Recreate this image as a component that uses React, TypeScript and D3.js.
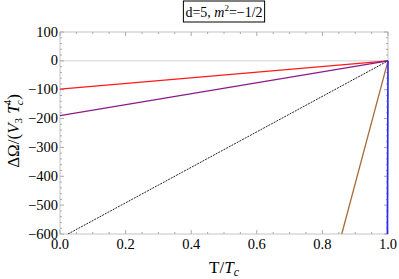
import React, { useRef, useEffect } from "react";
import * as d3 from "d3";

// each series is a straight segment: [T/Tc, ΔΩ] start and end
const seriesNames = ["red", "purple", "black", "brown", "blue"];
const seriesStart: [number, number][] = [[0, -98], [0, -190], [0, -615], [0.859, -600], [0.998, -600]];
const seriesEnd: [number, number][] = [[1, 0], [1, 0], [1, 0], [1, 0], [1, 0]];
const seriesColors = ["#ff1a1a", "#8c1a8c", "#222222", "#a86b35", "#2a2aff"];

const xTicks = [0, 0.2, 0.4, 0.6, 0.8, 1.0];
const yTicks = [100, 0, -100, -200, -300, -400, -500, -600];

const App = () => {
  const ref = useRef<SVGSVGElement>(null);

  useEffect(() => {
    const W = 399, H = 279;
    const margin = { top: 32, right: 11, bottom: 45, left: 60 };
    const width = W - margin.left - margin.right;
    const height = H - margin.top - margin.bottom;

    const svg = d3.select(ref.current);
    svg.selectAll("*").remove();
    svg.attr("width", W).attr("height", H);

    const x = d3.scaleLinear().domain([0, 1]).range([0, width]);
    const y = d3.scaleLinear().domain([-600, 100]).range([height, 0]);

    const g = svg.append("g").attr("transform", `translate(${margin.left},${margin.top})`);

    g.append("clipPath").attr("id", "plot-clip")
      .append("rect").attr("x", -1).attr("width", width + 2).attr("height", height);

    // zero axis line
    g.append("line")
      .attr("x1", 0).attr("x2", width)
      .attr("y1", y(0)).attr("y2", y(0))
      .attr("stroke", "#d0d0d0").attr("stroke-width", 1);

    // frame
    g.append("rect")
      .attr("width", width).attr("height", height)
      .attr("fill", "none").attr("stroke", "#c4c4c4").attr("stroke-width", 1);

    const tickColor = "#aaaaaa";
    // x ticks: major 0.2, minor 0.05, on top and bottom, pointing inward
    d3.range(0, 1.0001, 0.05).forEach((v, i) => {
      const len = i % 4 === 0 ? 4 : 2;
      const px = x(v);
      g.append("line").attr("x1", px).attr("x2", px).attr("y1", height).attr("y2", height - len)
        .attr("stroke", tickColor);
      g.append("line").attr("x1", px).attr("x2", px).attr("y1", 0).attr("y2", len)
        .attr("stroke", tickColor);
    });
    // y ticks: major 100, minor 20
    d3.range(-600, 100.001, 20).forEach((v, i) => {
      const len = i % 5 === 0 ? 4 : 2;
      const py = y(v);
      g.append("line").attr("x1", 0).attr("x2", len).attr("y1", py).attr("y2", py)
        .attr("stroke", tickColor);
      g.append("line").attr("x1", width).attr("x2", width - len).attr("y1", py).attr("y2", py)
        .attr("stroke", tickColor);
    });

    const font = "'Liberation Serif', 'DejaVu Serif', serif";

    g.selectAll(".xlab").data(xTicks).enter().append("text")
      .attr("x", d => x(d)).attr("y", height + 15)
      .attr("text-anchor", "middle")
      .attr("font-family", font).attr("font-size", 14.5)
      .text(d => d.toFixed(1));

    g.selectAll(".ylab").data(yTicks).enter().append("text")
      .attr("x", -2).attr("y", d => y(d) + 4.5)
      .attr("text-anchor", "end")
      .attr("font-family", font).attr("font-size", 14.5)
      .text(d => (d < 0 ? "\u2212" + Math.abs(d) : String(d)));

    // series
    const lines = g.append("g").attr("clip-path", "url(#plot-clip)");
    seriesNames.forEach((name, i) => {
      lines.append("path")
        .datum([seriesStart[i], seriesEnd[i]])
        .attr("fill", "none")
        .attr("stroke", seriesColors[i])
        .attr("stroke-width", name === "black" ? 1 : name === "blue" ? 1.6 : 1.3)
        .attr("stroke-dasharray", name === "black" ? "2,1" : null)
        .attr("d", d3.line<[number, number]>().x(d => x(d[0])).y(d => y(d[1])));
    });

    // x label
    const xl = g.append("text")
      .attr("x", width / 2).attr("y", height + 39)
      .attr("text-anchor", "middle")
      .attr("font-family", font).attr("font-size", 17);
    xl.append("tspan").text("T/");
    xl.append("tspan").attr("font-style", "italic").text("T");
    xl.append("tspan").attr("font-style", "italic").attr("font-size", 12).attr("dy", 3).text("c");

    // y label
    const yl = svg.append("text")
      .attr("transform", `translate(19,${margin.top + height / 2 - 2}) rotate(-90)`)
      .attr("text-anchor", "middle")
      .attr("font-family", font).attr("font-size", 17);
    yl.append("tspan").text("\u0394\u03a9/(");
    yl.append("tspan").attr("font-style", "italic").text("V");
    yl.append("tspan").attr("font-size", 11).attr("dy", 3).text("3");
    yl.append("tspan").attr("dy", -3).text(" ");
    yl.append("tspan").attr("font-style", "italic").text("T");
    yl.append("tspan").attr("font-style", "italic").attr("font-size", 11).attr("dy", 4).attr("dx", -1).text("c");
    yl.append("tspan").attr("font-size", 11).attr("dy", -12).attr("dx", -5).text("4");
    yl.append("tspan").attr("dy", 8).text(")");

    // title box
    const tg = svg.append("g");
    const title = tg.append("text")
      .attr("x", margin.left + width / 2).attr("y", 17)
      .attr("text-anchor", "middle")
      .attr("font-family", font).attr("font-size", 14);
    title.append("tspan").text("d=5, ");
    title.append("tspan").attr("font-style", "italic").text("m");
    title.append("tspan").attr("font-size", 9).attr("dy", -6).text("2");
    title.append("tspan").attr("dy", 6).text("=\u22121/2");
    const bb = (title.node() as SVGTextElement).getBBox();
    tg.insert("rect", "text")
      .attr("x", bb.x - 2).attr("y", 1)
      .attr("width", bb.width + 4).attr("height", 21)
      .attr("fill", "white").attr("stroke", "#000").attr("stroke-width", 1);
  }, []);

  return <svg ref={ref} style={{ position: "absolute", left: 0, top: 0 }}></svg>;
};

export default App;
